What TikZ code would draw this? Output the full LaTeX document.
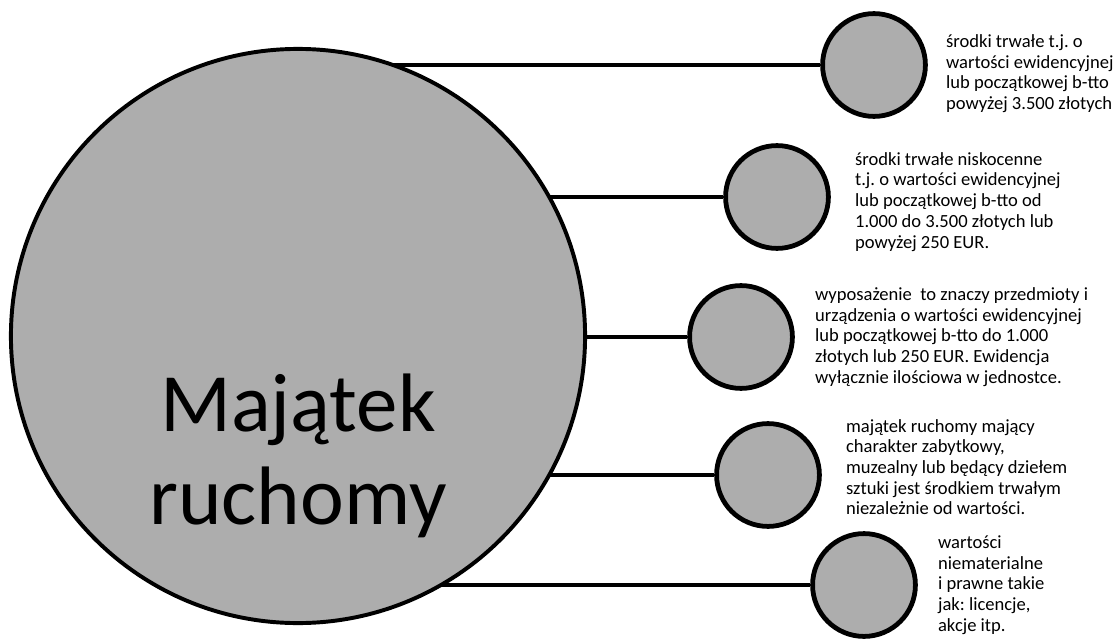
\documentclass[tikz,border=0pt]{standalone}
\usepackage{fontspec}
\setmainfont{Carlito}
\frenchspacing
\usetikzlibrary{positioning,backgrounds}

\tikzset{
  bigdisc/.style={circle,draw,line width=2.8pt,fill=black!32,minimum size=14.35cm,inner sep=0},
  dot/.style={circle,draw,line width=3.4pt,fill=black!32,minimum size=2.57cm,inner sep=0},
  link/.style={line width=2.8pt},
  note/.style={align=left,inner sep=0,font=\fontsize{13.2}{14.7}\selectfont},
}

\begin{document}
\begin{tikzpicture}[x=0.025cm,y=-0.025cm]
  \useasboundingbox (0,0) rectangle (1118,638);

  % Main circle
  \node[bigdisc] (main) at (298,336) {};
  \node[align=center,font=\fontsize{59}{66}\selectfont] (title) at (298,456) {Majątek\\ruchomy};

  % Small circles
  \foreach \n/\x/\y in {1/874/65, 2/777/197, 3/741/337, 4/768/475, 5/864/585} {
    \node[dot] (c\n) at (\x,\y) {};
  }

  % Links
  \begin{scope}[on background layer]
    \foreach \n in {1,...,5} {
      \draw[link] (main.center |- c\n) -- (c\n);
    }
  \end{scope}

  % Notes
  \node[note,right=0.45cm of c1,yshift=-0.22cm] (t1) {środki trwałe t.j. o\\wartości ewidencyjnej\\lub początkowej b-tto\\powyżej 3.500 złotych};
  \node[note,right=0.6cm of c2,yshift=-0.12cm] (t2) {środki trwałe niskocenne\\t.j. o wartości ewidencyjnej\\lub początkowej b-tto od\\1.000 do 3.500 złotych lub\\powyżej 250 EUR.};
  \node[note,right=0.5cm of c3] (t3) {wyposażenie~ to znaczy przedmioty i\\urządzenia o wartości ewidencyjnej\\lub początkowej b-tto do 1.000\\złotych lub 250 EUR. Ewidencja\\wyłącznie ilościowa w jednostce.};
  \node[note,right=0.6cm of c4,yshift=0.2cm] (t4) {majątek ruchomy mający\\charakter zabytkowy,\\muzealny lub będący dziełem\\sztuki jest środkiem trwałym\\niezależnie od wartości.};
  \node[note,right=0.5cm of c5] (t5) {wartości\\niematerialne\\i prawne takie\\jak: licencje,\\akcje itp.};

\end{tikzpicture}
\end{document}
